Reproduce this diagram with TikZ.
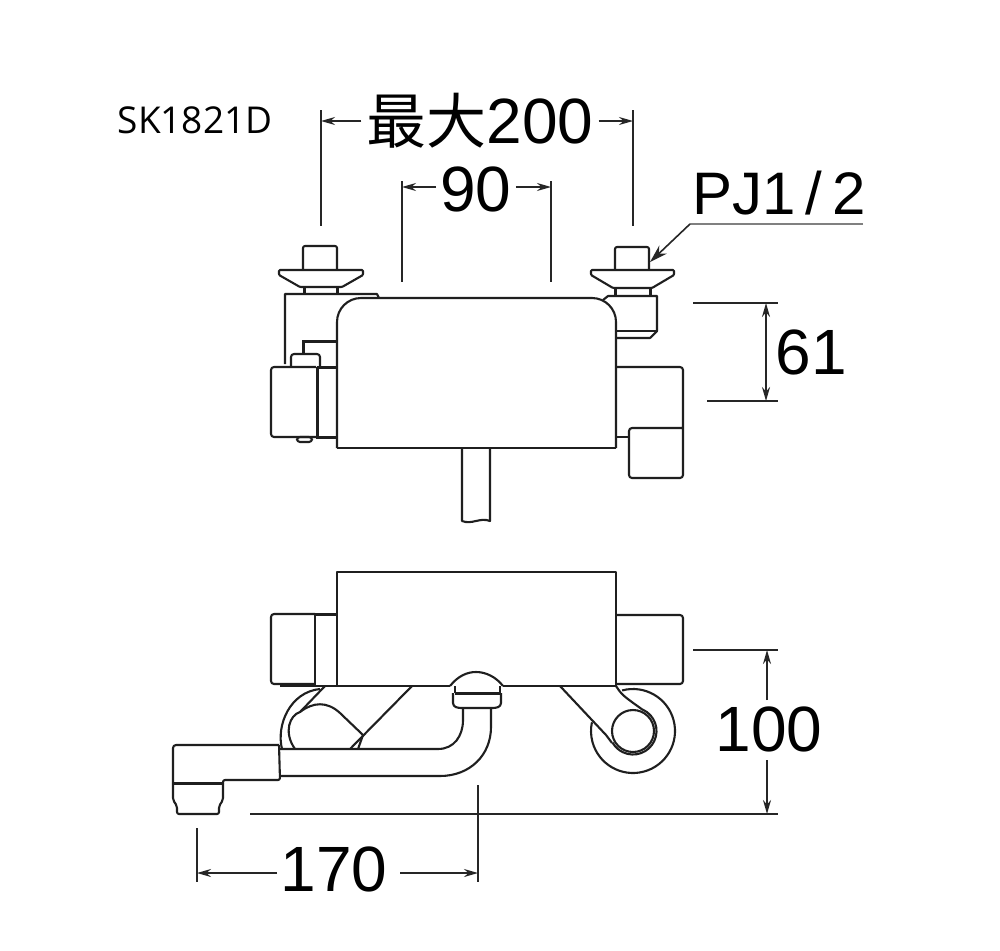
\documentclass[tikz,border=0pt]{standalone}
\usepackage{fontspec}
\setmainfont{Liberation Sans}
\newfontfamily\cjkfont{Noto Sans CJK JP}
\newfontfamily\modelfont{Open Sans}
\usetikzlibrary{arrows.meta}

\tikzset{
  part/.style={line width=2.1pt, color=black!88, line join=round},
  heavy/.style={line width=3pt, color=black!88},
  dimline/.style={line width=1.6pt, color=black!85},
  dimarrow/.style={dimline, -{Stealth[length=14pt,width=8pt]}},
  dimtext/.style={inner sep=0pt, font=\fontsize{64}{64}\selectfont},
}

\begin{document}
\begin{tikzpicture}[x=1pt,y=-1pt]
\useasboundingbox (0,0) rectangle (1000,950);
\fill[white] (0,0) rectangle (1000,950);

% upper view, body
\draw[part, rounded corners=24pt] (337,448) -- (337,298) -- (616,298) -- (616,448);
\draw[part] (337,448) -- (616,448);
\draw[part] (462,448) -- (462,521) .. controls (472,525) and (480,517) .. (490,521) -- (490,448);

% upper view, left side
\draw[part, rounded corners=2pt] (303,270) -- (303,246) -- (337,246) -- (337,270);
\draw[part, rounded corners=1pt] (300,287) -- (279,275) -- (279,270) -- (363,270) -- (363,275) -- (342,287) -- cycle;
\draw[heavy] (304,287) -- (304,294) (337,287) -- (337,294);
\draw[part] (285,364) -- (285,294) -- (377,294) -- (379,298);
\draw[heavy] (337,341) -- (303,341) -- (303,354);
\draw[part, rounded corners=3pt] (291,367) -- (291,354) -- (320,354) -- (320,367);
\draw[part, rounded corners=3pt] (316,367) -- (271,367) -- (271,437) -- (316,437);
\draw[heavy] (317,367) -- (317,437) -- (337,437) (317,367) -- (337,367);
\draw[part, rounded corners=3pt] (297,437) rectangle (312,442);

% upper view, right side
\draw[part, rounded corners=2pt] (615,270) -- (615,247) -- (649,247) -- (649,270);
\draw[part, rounded corners=1pt] (613,288) -- (591,275) -- (591,270) -- (674,270) -- (674,275) -- (652,288) -- cycle;
\draw[heavy] (615,288) -- (615,296) (650,288) -- (650,296);
\draw[part] (603,300) -- (608,296) -- (657,296) -- (657,331) -- (650,338) -- (616,338);
\draw[part] (616,331) -- (657,331);
\draw[part, rounded corners=3pt] (616,367) -- (683,367) -- (683,478) -- (629,478) -- (629,428) -- (683,428);
\draw[part] (616,437) -- (629,437);

% lower view, body and right side
\draw[part] (337,686) -- (337,572) -- (616,572) -- (616,686);
\draw[part] (280,686) -- (450,686) (503,686) -- (616,686);
\draw[part, rounded corners=3pt] (617,615) -- (683,615) -- (683,684) -- (617,684);
\draw[part] (633,731) ++(-105:42) arc[start angle=-105, end angle=192, radius=42];
\draw[part] (633,731) circle[radius=21];
\draw[part] (616,686) .. controls (622,695) .. (643,710);
\draw[part] (633,731) ++(-65:23.5) arc[start angle=-65, end angle=150, radius=23.5];
\draw[part] (560,686) -- (606,735) -- (612,743);

% lower view, left side
\draw[part, rounded corners=3pt] (315,614) -- (271,614) -- (271,684) -- (315,684);
\draw[part] (315,614) -- (315,685);
\draw[heavy] (315,614) -- (337,614);
\draw[part] (337,614) -- (337,686);
\draw[part] (282,749) .. controls (276,725) and (290,692) .. (320,689);
\draw[part] (325,686) -- (300,712);
\draw[part] (295,749) .. controls (283,732) and (290,715) .. (300,712) .. controls (313,702) and (327,701) .. (340,713) -- (363,735) -- (358,749);
\draw[part] (412,686) -- (350,749);

% spout
\draw[part] (280,749) -- (438,749) .. controls (454,749) and (463,736) .. (463,720) -- (463,708);
\draw[part] (280,776) -- (440,776) .. controls (470,776) and (491,755) .. (491,727) -- (491,708);
\draw[part] (450,686) .. controls (458,676) and (467,672) .. (476,672) .. controls (486,672) and (496,677) .. (503,686);
\draw[heavy] (455,693) -- (500,693);
\draw[part] (455,686) -- (455,693);
\draw[part] (500,686) -- (500,693);
\draw[part, rounded corners=3pt] (453,693) -- (453,706) -- (458,708) -- (496,708) -- (501,706) -- (501,693);
\draw[part, rounded corners=3pt] (279,745) -- (173,745) -- (173,783);
\draw[part, rounded corners=2pt] (279,745) -- (280,780) -- (223,780) -- (223,783);
\draw[heavy] (173,783) -- (223,783);
\draw[part, rounded corners=2pt] (173,783) -- (173,800) -- (177,806) -- (177,814) -- (219,814) -- (219,806) -- (223,800) -- (223,783);

% dimensions
\coordinate (max left top) at (321,110);
\coordinate (max left low) at (321,226);
\coordinate (max right top) at (633,110);
\coordinate (max right low) at (633,226);
\coordinate (max left) at (321,121);
\coordinate (max right) at (633,121);
\coordinate (pitch left top) at (402,181);
\coordinate (pitch left low) at (402,282);
\coordinate (pitch right top) at (551,181);
\coordinate (pitch right low) at (551,282);
\coordinate (pitch left) at (402,187);
\coordinate (pitch right) at (551,187);
\coordinate (depth top start) at (693,303);
\coordinate (depth top end) at (778,303);
\coordinate (depth low start) at (707,401);
\coordinate (depth low end) at (778,401);
\coordinate (depth top) at (766,303);
\coordinate (depth low) at (766,401);
\coordinate (projection top start) at (693,650);
\coordinate (projection top end) at (778,650);
\coordinate (base start) at (250,814);
\coordinate (base end) at (778,814);
\coordinate (projection top) at (767,650);
\coordinate (projection low) at (767,814);
\coordinate (reach left top) at (197,828);
\coordinate (reach left low) at (197,882);
\coordinate (reach right top) at (478,785);
\coordinate (reach right low) at (478,882);
\coordinate (reach left) at (197,873);
\coordinate (reach right) at (478,873);
\coordinate (thread tip) at (650,262);
\coordinate (thread elbow) at (690,224);
\coordinate (thread end) at (863,224);

\node[inner sep=0pt, font=\modelfont\fontsize{37}{37}\selectfont] (model) at (195,120) {SK1821D};
\node[dimtext] (max label) at (480,121) {{\cjkfont\fontsize{60}{60}\selectfont 最大}200};
\node[dimtext] (pitch label) at (476,189) {90};
\node[dimtext] (depth label) at (811,352) {61};
\node[dimtext] (projection label) at (769,729) {100};
\node[dimtext] (reach label) at (334,869) {170};
\node[dimtext, font=\fontsize{60}{60}\selectfont] (thread label) at (779,193) {PJ1\,/\,2};

\draw[dimline] (max left top) -- (max left low);
\draw[dimline] (max right top) -- (max right low);
\draw[dimarrow] (max label.west) ++(-5,0) -- (max left);
\draw[dimarrow] (max label.east) ++(5,0) -- (max right);
\draw[dimline] (pitch left top) -- (pitch left low);
\draw[dimline] (pitch right top) -- (pitch right low);
\draw[dimarrow] (pitch label.west) ++(-4,-2) -- (pitch left);
\draw[dimarrow] (pitch label.east) ++(4,-2) -- (pitch right);
\draw[dimline] (depth top start) -- (depth top end);
\draw[dimline] (depth low start) -- (depth low end);
\draw[dimarrow, {Stealth[length=14pt,width=8pt]}-{Stealth[length=14pt,width=8pt]}] (depth top) -- (depth low);
\draw[dimline] (projection top start) -- (projection top end);
\draw[dimline] (base start) -- (base end);
\draw[dimarrow] (767,700) -- (projection top);
\draw[dimarrow] (767,760) -- (projection low);
\draw[dimline] (reach left top) -- (reach left low);
\draw[dimline] (reach right top) -- (reach right low);
\draw[dimarrow] (277,873) -- (reach left);
\draw[dimarrow] (400,873) -- (reach right);
\draw[line width=1.6pt, color=black!50] (thread end) -- (thread elbow);
\draw[dimline, -{Stealth[length=18pt,width=11pt]}] (thread elbow) -- (thread tip);
\end{tikzpicture}
\end{document}
